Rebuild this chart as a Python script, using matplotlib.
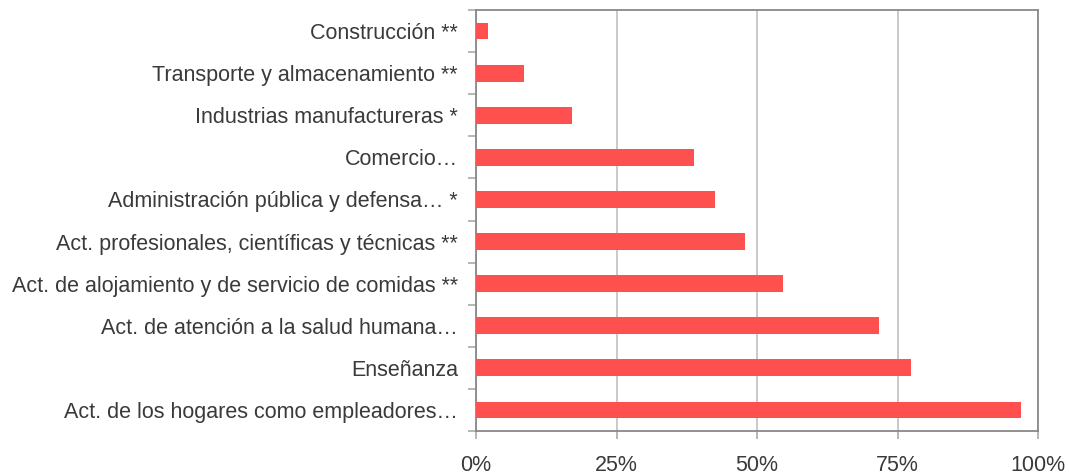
import matplotlib
matplotlib.use("Agg")
import matplotlib.pyplot as plt
import numpy as np
from matplotlib.ticker import FixedLocator, PercentFormatter

categories = [
    "Construcción **",
    "Transporte y almacenamiento **",
    "Industrias manufactureras *",
    "Comercio…",
    "Administración pública y defensa… *",
    "Act. profesionales, científicas y técnicas **",
    "Act. de alojamiento y de servicio de comidas **",
    "Act. de atención a la salud humana…",
    "Enseñanza",
    "Act. de los hogares como empleadores…",
]
values = [2.1, 8.5, 17.1, 38.8, 42.5, 47.9, 54.6, 71.7, 77.4, 97.0]
xticks = [0, 25, 50, 75, 100]

plt.rcParams['font.family'] = ['Liberation Sans', 'DejaVu Sans']

fig = plt.figure(figsize=(10.69, 4.75), dpi=100)
ax = fig.add_axes([476/1069, 1-431/475, (1038-476)/1069, (431-10)/475])

y = np.arange(len(categories))
ax.barh(y, values, height=0.4, color='#FF5050', zorder=3)

ax.set_xlim(0, 100)
ax.set_ylim(len(categories)-0.5, -0.5)
ax.set_xticks(xticks)
ax.xaxis.set_major_formatter(PercentFormatter(decimals=0))
ax.set_yticks(y)
ax.set_yticklabels(categories)
ax.yaxis.set_minor_locator(FixedLocator(np.arange(-0.5, len(categories), 1.0)))

ax.grid(axis='x', color='#c0c0c0', linewidth=1.2, zorder=0)
ax.set_axisbelow(True)

for s in ax.spines.values():
    s.set_color('#888888')
    s.set_linewidth(1.3)

ax.tick_params(axis='y', which='major', length=0, pad=13, labelsize=15.5, labelcolor='#3a3a3a')
ax.tick_params(axis='y', which='minor', length=6, color='#aaaaaa', width=1.2)
ax.tick_params(axis='x', which='major', length=6, color='#aaaaaa', width=1.2, pad=11,
               labelsize=15.5, labelcolor='#3a3a3a')

fig.savefig("out.png", dpi=100)
